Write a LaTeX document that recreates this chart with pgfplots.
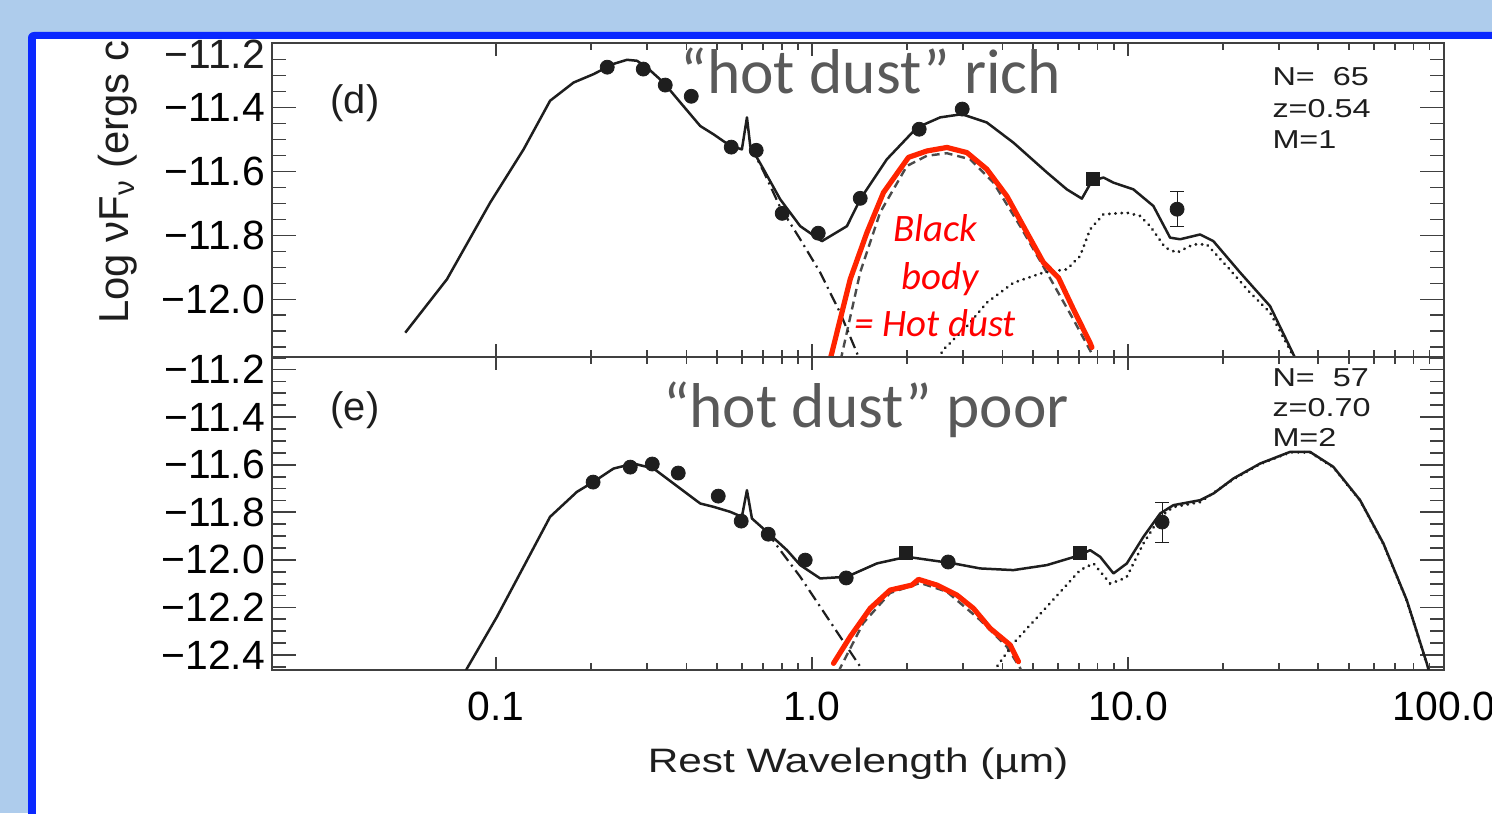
\documentclass[border=0pt]{standalone}
\usepackage{fontspec}
\setmainfont{Liberation Sans}
\newfontfamily\calibri{Carlito}
\usepackage{pgfplots}
\pgfplotsset{compat=1.18}

\definecolor{slidebg}{RGB}{174,204,236}
\definecolor{slideblue}{RGB}{10,40,255}
\definecolor{annogray}{RGB}{89,89,89}
\definecolor{bbred}{RGB}{255,36,0}
\definecolor{ink}{RGB}{30,30,30}

\tikzset{
  sedline/.style={ink, line width=1.25bp, line join=round},
  torusline/.style={ink, line width=1.5bp, line cap=round, dash pattern=on 0.1bp off 3bp},
  starline/.style={ink, line width=1.1bp, dash pattern=on 6bp off 2.5bp on 1bp off 2.5bp},
  bbline/.style={ink!80, line width=1.2bp, dash pattern=on 4bp off 2.5bp},
  hotline/.style={bbred, line width=2.6bp, line join=round, line cap=round},
}

\begin{document}
\begin{tikzpicture}[x=0.5bp, y=0.5bp]
\useasboundingbox (0,0) rectangle (1492,813);
\fill[slidebg] (0,0) rectangle (1492,813);
\fill[slideblue, rounded corners=3] (28,-20) rectangle (1520,781);
\fill[white] (36,-20) rectangle (1520,774);

\begin{scope}
\clip (36,0) rectangle (1492,774);

% panel (d): hot dust rich
\begin{axis}[xmode=log, scale only axis, width=586bp, height=156.75bp,
  at={(136bp,228bp)}, anchor=south west,
  xmin=0.0195, xmax=100, ymin=-12.18, ymax=-11.2,
  xtick={0.1,1,10,100}, xticklabels={},
  ytick={-12.0,-11.8,-11.6,-11.4,-11.2},
  yticklabels={−12.0,−11.8,−11.6,−11.4,{}},
  minor ytick={-12.15,-12.1,-12.05,-11.95,-11.9,-11.85,-11.75,-11.7,-11.65,-11.55,-11.5,-11.45,-11.35,-11.3,-11.25},
  axis line style={line width=1bp, draw=ink!85},
  tick style={line width=0.9bp, draw=ink!85},
  major tick length=12bp, minor tick length=7bp,
  xtick style={/pgfplots/major tick length=6.5bp, /pgfplots/minor tick length=3.5bp},
  tick label style={font=\fontsize{20.5}{21}\selectfont}]
\addplot[bbline, no markers] coordinates {(1.23,-12.19) (1.242,-12.172) (1.419,-11.915) (1.641,-11.728) (1.994,-11.583) (2.307,-11.551) (2.669,-11.543) (3.162,-11.562) (3.748,-11.635) (4.552,-11.771) (5.530,-11.916) (6.713,-12.063) (7.750,-12.177) (7.8,-12.19)};
\addplot[torusline, no markers] coordinates {(2.449,-12.20) (2.603,-12.157) (3.088,-12.084) (3.571,-12.010) (4.335,-11.948) (5.395,-11.916) (6.397,-11.906) (7.049,-11.864) (7.581,-11.781) (8.354,-11.734) (9.906,-11.729) (10.91,-11.739) (11.74,-11.771) (13.10,-11.838) (14.26,-11.854) (16.09,-11.828) (17.74,-11.828) (20.53,-11.896) (24.32,-11.979) (28.14,-12.041) (33.36,-12.178) (34.0,-12.19)};
\addplot[starline, no markers] coordinates {(0.6366,-11.520) (0.7014,-11.600) (0.7918,-11.712) (0.9163,-11.812) (1.060,-11.916) (1.226,-12.042) (1.385,-12.167) (1.419,-12.194)};
\addplot[sedline, no markers] coordinates {(0.0515,-12.104) (0.0698,-11.937) (0.0957,-11.697) (0.122,-11.531) (0.148,-11.379) (0.1757,-11.322) (0.203,-11.296) (0.2346,-11.264) (0.2593,-11.251) (0.2788,-11.254) (0.2999,-11.275) (0.3384,-11.322) (0.3822,-11.384) (0.4422,-11.458) (0.4873,-11.484) (0.5501,-11.520) (0.599,-11.531) (0.6215,-11.431) (0.6366,-11.520) (0.7014,-11.593) (0.7918,-11.687) (0.9163,-11.771) (1.073,-11.818) (1.288,-11.771) (1.419,-11.687) (1.723,-11.562) (2.145,-11.463) (2.541,-11.431) (2.977,-11.421) (3.571,-11.447) (4.335,-11.510) (5.530,-11.603) (6.397,-11.656) (7.138,-11.685) (7.677,-11.630) (8.354,-11.619) (8.985,-11.635) (10.39,-11.656) (12.02,-11.708) (13.58,-11.807) (14.61,-11.812) (16.90,-11.797) (18.62,-11.818) (22.62,-11.916) (28.14,-12.021) (33.36,-12.172) (34.0,-12.19)};
\addplot[hotline, no markers] coordinates {(1.145,-12.18) (1.154,-12.167) (1.319,-11.937) (1.490,-11.791) (1.681,-11.666) (2.017,-11.556) (2.307,-11.536) (2.669,-11.525) (3.088,-11.541) (3.571,-11.593) (4.131,-11.677) (4.780,-11.791) (5.395,-11.885) (6.018,-11.932) (6.713,-12.031) (7.581,-12.136) (7.68,-12.15)};
\addplot[ink, only marks, mark=*, mark size=3.5bp] coordinates {(0.2245,-11.274) (0.2919,-11.280) (0.3426,-11.330) (0.4141,-11.365) (0.5542,-11.524) (0.6648,-11.534) (0.8035,-11.731) (1.045,-11.793) (1.419,-11.684) (2.181,-11.468) (2.984,-11.405)};
\addplot[ink, only marks, mark=square*, mark size=3.3bp] coordinates {(7.750,-11.624)};
\addplot[ink, only marks, mark=*, mark size=3.5bp,
  error bars/y dir=both, error bars/y explicit]
  coordinates {(14.29,-11.718) +- (0,0.055)};
\end{axis}

% panel (e): hot dust poor
\begin{axis}[xmode=log, scale only axis, width=586bp, height=156.5bp,
  at={(136bp,71.5bp)}, anchor=south west,
  xmin=0.0195, xmax=100, ymin=-12.463, ymax=-11.147,
  xtick={0.1,1,10,100}, xticklabels={0.1,1.0,10.0,100.0},
  xticklabel style={yshift=-7.5bp},
  ytick={-12.4,-12.2,-12.0,-11.8,-11.6,-11.4,-11.2},
  yticklabels={−12.4,−12.2,−12.0,−11.8,−11.6,−11.4,−11.2},
  minor ytick={-12.45,-12.35,-12.3,-12.25,-12.15,-12.1,-12.05,-11.95,-11.9,-11.85,-11.75,-11.7,-11.65,-11.55,-11.5,-11.45,-11.35,-11.3,-11.25,-11.15},
  axis line style={line width=1bp, draw=ink!85},
  tick style={line width=0.9bp, draw=ink!85},
  major tick length=12bp, minor tick length=7bp,
  xtick style={/pgfplots/major tick length=6.5bp, /pgfplots/minor tick length=3.5bp},
  tick label style={font=\fontsize{20.5}{21}\selectfont}]
\addplot[bbline, no markers] coordinates {(1.21,-12.47) (1.450,-12.266) (1.765,-12.139) (2.197,-12.097) (2.669,-12.134) (3.401,-12.253) (4.131,-12.365) (4.552,-12.455) (4.6,-12.47)};
\addplot[torusline, no markers] coordinates {(3.80,-12.47) (3.842,-12.449) (4.335,-12.351) (5.530,-12.197) (7.049,-12.043) (7.768,-12.015) (8.770,-12.099) (9.434,-12.085) (9.906,-12.071) (11.18,-11.931) (12.63,-11.819) (13.91,-11.778) (16.90,-11.757) (21.54,-11.661) (26.17,-11.597) (32.56,-11.548) (37.66,-11.548) (44.64,-11.611) (54.23,-11.751) (64.27,-11.933) (76.20,-12.171) (88.18,-12.437)};
\addplot[starline, no markers] coordinates {(0.7189,-11.882) (0.7918,-11.959) (0.9163,-12.071) (1.060,-12.197) (1.226,-12.323) (1.419,-12.449) (1.450,-12.471)};
\addplot[sedline, no markers] coordinates {(0.0798,-12.471) (0.0808,-12.456) (0.1005,-12.239) (0.122,-12.029) (0.148,-11.819) (0.18,-11.714) (0.203,-11.672) (0.2351,-11.616) (0.2719,-11.595) (0.3147,-11.616) (0.364,-11.679) (0.4422,-11.763) (0.4873,-11.777) (0.5501,-11.798) (0.599,-11.819) (0.6215,-11.707) (0.6445,-11.826) (0.7189,-11.882) (0.8317,-11.959) (0.9163,-12.022) (1.060,-12.078) (1.288,-12.071) (1.602,-12.015) (1.994,-11.987) (2.362,-12.001) (2.801,-12.015) (3.401,-12.036) (4.335,-12.043) (5.530,-12.022) (7.049,-11.980) (7.581,-11.959) (8.156,-11.987) (8.985,-12.057) (9.906,-12.015) (11.18,-11.903) (12.63,-11.805) (13.91,-11.770) (16.90,-11.749) (18.62,-11.721) (21.54,-11.658) (26.17,-11.595) (32.56,-11.546) (37.66,-11.546) (44.64,-11.609) (54.23,-11.749) (64.27,-11.931) (76.20,-12.169) (88.18,-12.435) (89.65,-12.47)};
\addplot[hotline, no markers] coordinates {(1.168,-12.435) (1.319,-12.323) (1.526,-12.204) (1.765,-12.127) (2.068,-12.106) (2.170,-12.082) (2.481,-12.106) (2.871,-12.148) (3.239,-12.204) (3.659,-12.288) (4.233,-12.358) (4.496,-12.428)};
\addplot[ink, only marks, mark=*, mark size=3.5bp] coordinates {(0.2025,-11.673) (0.2655,-11.610) (0.3117,-11.597) (0.3767,-11.635) (0.5041,-11.732) (0.5960,-11.837) (0.7258,-11.892) (0.9503,-12.001) (1.281,-12.076) (2.694,-12.009)};
\addplot[ink, only marks, mark=square*, mark size=3.3bp] coordinates {(1.984,-11.971) (7.049,-11.971)};
\addplot[ink, only marks, mark=*, mark size=3.5bp,
  error bars/y dir=both, error bars/y explicit]
  coordinates {(12.81,-11.841) +- (0,0.084)};
\end{axis}

% labels set on the figure
\node[anchor=east, font=\fontsize{20.5}{21}\selectfont, ink] at (272,759) {−11.2};
\node[rotate=90, anchor=base west, inner sep=0pt, font=\fontsize{21}{24}\selectfont, ink] at (128,489)
  {Log νF\textsubscript{ν} (ergs cm\textsuperscript{−2} s\textsuperscript{−1})};
\node[anchor=base, font=\fontsize{17}{20}\selectfont, xscale=1.25, ink] at (858,41) {Rest Wavelength (µm)};
\node[font=\fontsize{20}{22}\selectfont, ink] at (355,710) {(d)};
\node[font=\fontsize{20}{22}\selectfont, ink] at (355,403) {(e)};
\begin{scope}[every node/.style={anchor=west, inner sep=0pt, font=\fontsize{13}{14}\selectfont, xscale=1.25, ink}]
\node at (1272,736) {N=\ \ 65};
\node at (1272,704) {z=0.54};
\node at (1272,673) {M=1};
\node at (1272,435) {N=\ \ 57};
\node at (1272,405) {z=0.70};
\node at (1272,376) {M=2};
\end{scope}
\node[anchor=base, font=\calibri\fontsize{31.8}{36}\selectfont, annogray] at (871,719) {“hot dust” rich};
\node[anchor=base, font=\calibri\fontsize{31.8}{36}\selectfont, annogray] at (866,385) {“hot dust” poor};
\begin{scope}[every node/.style={anchor=base, font=\calibri\itshape\fontsize{19.5}{22}\selectfont, text=red}]
\node at (935,571) {Black};
\node at (940,523) {body};
\node at (935,476) {= Hot dust};
\end{scope}
\end{scope}
\end{tikzpicture}
\end{document}
